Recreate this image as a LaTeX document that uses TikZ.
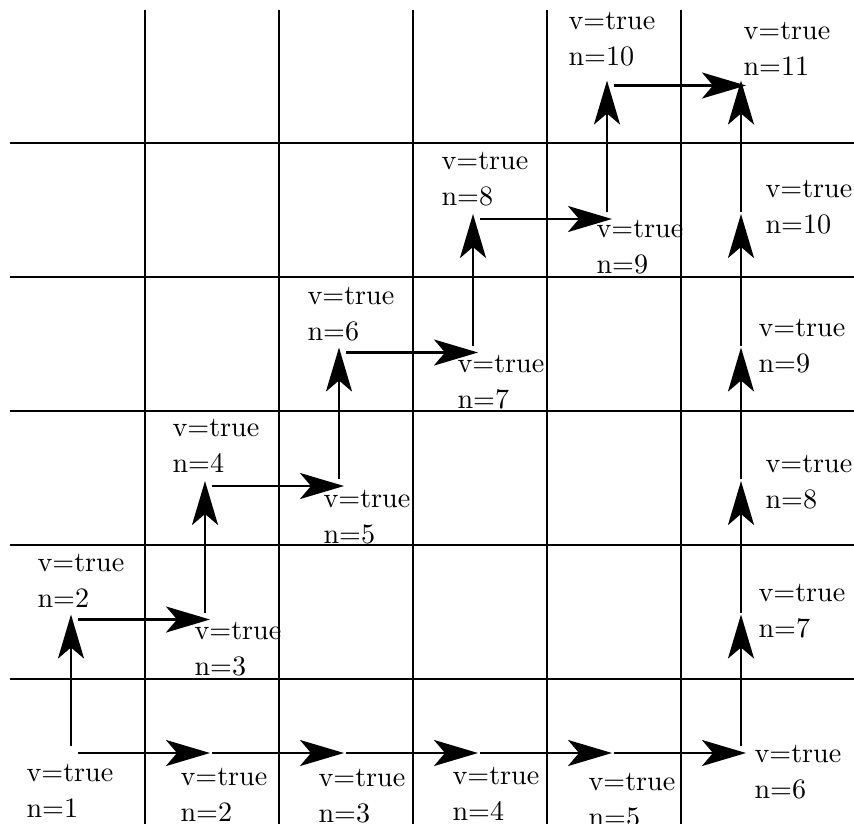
\documentclass[tikz,border=0pt]{standalone}
\usetikzlibrary{arrows.meta}
\begin{document}
\begin{tikzpicture}[x=1bp,y=-1bp,
  gridline/.style={line width=1.3bp},
  flow/.style={line width=2.8bp,
    -{Stealth[length=44bp,width=26bp,inset=11bp]},
    shorten <=7bp, shorten >=-5bp},
  % anchored at the baseline of the second line
  lbl/.style={anchor=base west, inner sep=0pt, align=left,
    font=\fontsize{10}{12.8}\selectfont, scale=2.82}]
\useasboundingbox (0,0) rectangle (854,824);

% grid
\foreach \gx in {145,279,413,547,681}
  \draw[gridline] (\gx,10) -- (\gx,824);
\foreach \gy in {143,277,411,545,679}
  \draw[gridline] (10,\gy) -- (854,\gy);

% states
\coordinate (p1)  at (71,753);
% bottom row
\coordinate (b2)  at (205,753);
\coordinate (b3)  at (339,753);
\coordinate (b4)  at (473,753);
\coordinate (b5)  at (607,753);
\coordinate (p6)  at (741,753);
% staircase
\coordinate (s2)  at (71,619.5);
\coordinate (s3)  at (205,619.5);
\coordinate (s4)  at (205,486);
\coordinate (s5)  at (339,486);
\coordinate (s6)  at (339,352.5);
\coordinate (s7)  at (473,352.5);
\coordinate (s8)  at (473,219);
\coordinate (s9)  at (607,219);
\coordinate (s10) at (607,85.5);
\coordinate (p11) at (741,85.5);
% right column
\coordinate (r7)  at (741,619.5);
\coordinate (r8)  at (741,486);
\coordinate (r9)  at (741,352.5);
\coordinate (r10) at (741,219);

% transitions
\draw[flow] (p1) -- (b2);
\draw[flow] (b2) -- (b3);
\draw[flow] (b3) -- (b4);
\draw[flow] (b4) -- (b5);
\draw[flow] (b5) -- (p6);

\draw[flow] (p1) -- (s2);
\draw[flow] (s2) -- (s3);
\draw[flow] (s3) -- (s4);
\draw[flow] (s4) -- (s5);
\draw[flow] (s5) -- (s6);
\draw[flow] (s6) -- (s7);
\draw[flow] (s7) -- (s8);
\draw[flow] (s8) -- (s9);
\draw[flow] (s9) -- (s10);
\draw[flow] (s10) -- (p11);

\draw[flow] (p6) -- (r7);
\draw[flow] (r7) -- (r8);
\draw[flow] (r8) -- (r9);
\draw[flow] (r9) -- (r10);
\draw[flow] (r10) -- (p11);

% labels
\node[lbl] (lp1)  at (26,817)  {v=true\\n=1};
\node[lbl] (lb2)  at (180,821) {v=true\\n=2};
\node[lbl] (lb3)  at (318,822) {v=true\\n=3};
\node[lbl] (lb4)  at (452,820) {v=true\\n=4};
\node[lbl] (lb5)  at (588,826) {v=true\\n=5};
\node[lbl] (lp6)  at (754,798) {v=true\\n=6};

\node[lbl] (ls2)  at (37,607)  {v=true\\n=2};
\node[lbl] (ls3)  at (194,675) {v=true\\n=3};
\node[lbl] (ls4)  at (172,472) {v=true\\n=4};
\node[lbl] (ls5)  at (323,543) {v=true\\n=5};
\node[lbl] (ls6)  at (307,340) {v=true\\n=6};
\node[lbl] (ls7)  at (457,408) {v=true\\n=7};
\node[lbl] (ls8)  at (441,205) {v=true\\n=8};
\node[lbl] (ls9)  at (596,273) {v=true\\n=9};
\node[lbl] (ls10) at (568,65)  {v=true\\n=10};
\node[lbl] (lp11) at (743,75)  {v=true\\n=11};

\node[lbl] (lr7)  at (758,637) {v=true\\n=7};
\node[lbl] (lr8)  at (765,508) {v=true\\n=8};
\node[lbl] (lr9)  at (758,372) {v=true\\n=9};
\node[lbl] (lr10) at (765,233) {v=true\\n=10};
\end{tikzpicture}
\end{document}
